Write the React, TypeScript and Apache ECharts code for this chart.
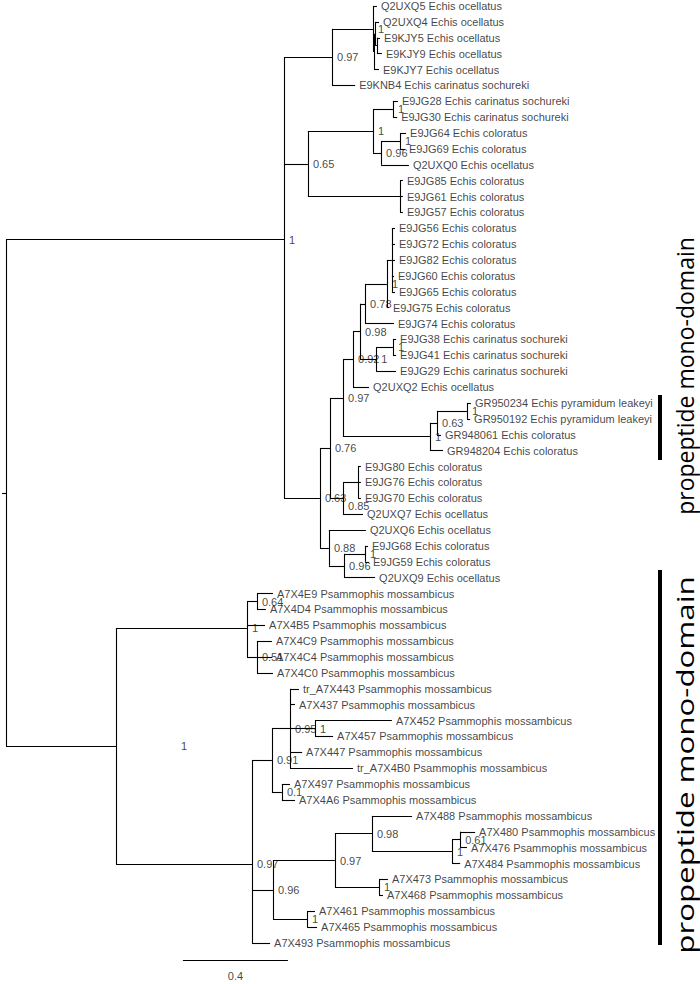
import { useEffect, useRef } from 'react';
import * as echarts from 'echarts';

// ---- tree data (tip order top to bottom) ----
const tipNames = [
  'Q2UXQ5 Echis ocellatus', 'Q2UXQ4 Echis ocellatus', 'E9KJY5 Echis ocellatus', 'E9KJY9 Echis ocellatus',
  'E9KJY7 Echis ocellatus', 'E9KNB4 Echis carinatus sochureki', 'E9JG28 Echis carinatus sochureki',
  'E9JG30 Echis carinatus sochureki', 'E9JG64 Echis coloratus', 'E9JG69 Echis coloratus', 'Q2UXQ0 Echis ocellatus',
  'E9JG85 Echis coloratus', 'E9JG61 Echis coloratus', 'E9JG57 Echis coloratus', 'E9JG56 Echis coloratus',
  'E9JG72 Echis coloratus', 'E9JG82 Echis coloratus', 'E9JG60 Echis coloratus', 'E9JG65 Echis coloratus',
  'E9JG75 Echis coloratus', 'E9JG74 Echis coloratus', 'E9JG38 Echis carinatus sochureki',
  'E9JG41 Echis carinatus sochureki', 'E9JG29 Echis carinatus sochureki', 'Q2UXQ2 Echis ocellatus',
  'GR950234 Echis pyramidum leakeyi', 'GR950192 Echis pyramidum leakeyi', 'GR948061 Echis coloratus',
  'GR948204 Echis coloratus', 'E9JG80 Echis coloratus', 'E9JG76 Echis coloratus', 'E9JG70 Echis coloratus',
  'Q2UXQ7 Echis ocellatus', 'Q2UXQ6 Echis ocellatus', 'E9JG68 Echis coloratus', 'E9JG59 Echis coloratus',
  'Q2UXQ9 Echis ocellatus', 'A7X4E9 Psammophis mossambicus', 'A7X4D4 Psammophis mossambicus',
  'A7X4B5 Psammophis mossambicus', 'A7X4C9 Psammophis mossambicus', 'A7X4C4 Psammophis mossambicus',
  'A7X4C0 Psammophis mossambicus', 'tr_A7X443 Psammophis mossambicus', 'A7X437 Psammophis mossambicus',
  'A7X452 Psammophis mossambicus', 'A7X457 Psammophis mossambicus', 'A7X447 Psammophis mossambicus',
  'tr_A7X4B0 Psammophis mossambicus', 'A7X497 Psammophis mossambicus', 'A7X4A6 Psammophis mossambicus',
  'A7X488 Psammophis mossambicus', 'A7X480 Psammophis mossambicus', 'A7X476 Psammophis mossambicus',
  'A7X484 Psammophis mossambicus', 'A7X473 Psammophis mossambicus', 'A7X468 Psammophis mossambicus',
  'A7X461 Psammophis mossambicus', 'A7X465 Psammophis mossambicus', 'A7X493 Psammophis mossambicus',
];
const tipParent = [
  'A1', 'A3', 'A4', 'A4', 'A2', 'A', 'B1a', 'B1a', 'B1c', 'B1c', 'B1b', 'B2', 'B2', 'B2',
  'K', 'K', 'K', 'K', 'K', 'M', 'H', 'L1', 'L1', 'L', 'C1a1', 'GR1a', 'GR1a', 'GR63', 'GRn',
  'N', 'N', 'N', 'C1b', 'C2', 'C2b', 'C2b', 'C2a',
  'P1a', 'P1a', 'P1', 'P1b', 'P1b', 'P1b', 'Q1', 'Q1', 'Q1a', 'Q1a', 'Q1', 'Q1', 'Q2', 'Q2',
  'T1', 'T1b', 'T1b', 'T1a', 'T2', 'T2', 'U', 'U', 'P2',
];
// distance from root (substitutions per site)
const tipDepth = [
  1.413, 1.421, 1.425, 1.432, 1.421, 1.330, 1.493, 1.490, 1.524, 1.520, 1.535, 1.512, 1.512, 1.512,
  1.482, 1.482, 1.482, 1.478, 1.482, 1.459, 1.478, 1.486, 1.486, 1.486, 1.383, 1.771, 1.768, 1.657, 1.665,
  1.352, 1.352, 1.352, 1.360, 1.371, 1.379, 1.383, 1.406,
  1.017, 0.990, 0.987, 1.013, 1.013, 1.017, 1.116, 1.101, 1.470, 1.246, 1.128, 1.322, 1.082, 1.101,
  1.547, 1.787, 1.756, 1.730, 1.455, 1.436, 1.177, 1.185, 1.006,
];
const nodeIds = [
  'R', 'E', 'A', 'A1', 'A2', 'A3', 'A4', 'B', 'B1', 'B1a', 'B1b', 'B1c', 'B2',
  'C', 'C1', 'C1a', 'C1a1', 'G', 'H', 'M', 'K', 'L', 'L1', 'GRn', 'GR63', 'GR1a', 'C1b', 'N',
  'C2', 'C2a', 'C2b', 'P', 'P1', 'P1a', 'P1b', 'P2', 'Q', 'Q1', 'Q1a', 'Q2', 'S', 'T', 'T1', 'T1a', 'T1b', 'T2', 'U',
];
const nodeParent = [
  '', 'R', 'E', 'A', 'A1', 'A2', 'A3', 'E', 'B', 'B1', 'B1', 'B1b', 'B',
  'E', 'C', 'C1', 'C1a', 'C1a1', 'G', 'H', 'M', 'G', 'L', 'C1a', 'GRn', 'GR63', 'C1', 'C1b',
  'C', 'C2', 'C2a', 'R', 'P', 'P1', 'P1', 'P', 'P2', 'Q', 'Q1', 'Q', 'P2', 'S', 'T', 'T1', 'T1a', 'T', 'S',
];
const nodeDepth = [
  0, 1.059, 1.242, 1.398, 1.402, 1.406, 1.413, 1.150, 1.398, 1.474, 1.429, 1.501, 1.501,
  1.196, 1.234, 1.284, 1.322, 1.349, 1.368, 1.451, 1.470, 1.410, 1.474, 1.615, 1.642, 1.756, 1.284, 1.341,
  1.230, 1.288, 1.368, 0.419, 0.918, 0.956, 0.956, 0.937, 1.013, 1.082, 1.177, 1.051, 1.017, 1.253, 1.394, 1.699, 1.730, 1.421, 1.147,
];
const nodeSupport = [
  '', '1', '0.97', '1', '', '', '', '0.65', '1', '1', '0.96', '1', '',
  '0.63', '0.76', '0.97', '0.92', '0.98', '0.78', '1', '', '1', '1', '1', '0.63', '1', '0.85', '',
  '0.88', '0.96', '1', '1', '1', '0.64', '0.51', '0.97', '0.91', '0.95', '1', '0.1', '0.96', '0.97', '0.98', '1', '0.61', '1', '1',
];
const scaleBarLength = 0.4;
const scaleBarLabel = '0.4';
const annotationText = 'propeptide mono-domain';

// ---- layout constants ----
const PX_PER_UNIT = 262.5;
const ROW = 15.88;
const X_MIN = -0.02;
const X_MAX = 2;
const Y_MAX = 61;
const SCALE_START = 0.674;
const SCALE_ROW = 60.07;
const ROOT_STUB = 0.015;
// pixel nudges for a few support labels, as placed in the original figure
const LABEL_NUDGE: Record<string, [number, number]> = { P: [60, 0], C1b: [0, 8] };

export default function App() {
  const ref = useRef<HTMLDivElement>(null);
  useEffect(() => {
    if (!ref.current) return;
    const chart = echarts.init(ref.current, null, { renderer: 'svg' });

    const depthOf: Record<string, number> = {};
    nodeIds.forEach((id, i) => { depthOf[id] = nodeDepth[i]; });
    const yCache: Record<string, number> = {};
    const childYs = (id: string): number[] => {
      const ys: number[] = [];
      tipParent.forEach((p, i) => { if (p === id) ys.push(i); });
      nodeIds.forEach((n, i) => { if (nodeParent[i] === id) ys.push(yOf(n)); });
      return ys;
    };
    const yOf = (id: string): number => {
      if (yCache[id] !== undefined) return yCache[id];
      const ys = childYs(id);
      const y = ys.reduce((a, b) => a + b, 0) / ys.length;
      yCache[id] = y;
      return y;
    };

    const segs: number[][][] = [];
    tipDepth.forEach((d, i) => {
      segs.push([[depthOf[tipParent[i]], i], [d, i]]);
    });
    nodeIds.forEach((id, i) => {
      const ys = childYs(id);
      const y = yOf(id);
      segs.push([[nodeDepth[i], Math.min(...ys)], [nodeDepth[i], Math.max(...ys)]]);
      if (nodeParent[i]) segs.push([[depthOf[nodeParent[i]], y], [nodeDepth[i], y]]);
      else segs.push([[-ROOT_STUB, y], [nodeDepth[i], y]]);
    });
    segs.push([[SCALE_START, SCALE_ROW], [SCALE_START + scaleBarLength, SCALE_ROW]]);

    const supportData: any[] = [];
    nodeIds.forEach((id, i) => {
      if (!nodeSupport[i]) return;
      const nudge = LABEL_NUDGE[id];
      supportData.push({
        value: [nodeDepth[i], yOf(id), nodeSupport[i]],
        label: nudge ? { offset: nudge } : undefined,
      });
    });

    const font = 'Liberation Sans';
    const gridLeft = 6 + X_MIN * PX_PER_UNIT;

    chart.setOption({
      animation: false,
      backgroundColor: '#fff',
      grid: { left: gridLeft, top: 6, width: (X_MAX - X_MIN) * PX_PER_UNIT, height: Y_MAX * ROW },
      xAxis: { type: 'value', min: X_MIN, max: X_MAX, show: false },
      yAxis: { type: 'value', min: 0, max: Y_MAX, inverse: true, show: false },
      series: [
        {
          type: 'lines',
          coordinateSystem: 'cartesian2d',
          clip: false,
          silent: true,
          lineStyle: { color: '#000', width: 1.1, opacity: 1 },
          data: segs.map((c) => ({ coords: c })),
        },
        {
          type: 'scatter',
          silent: true,
          symbolSize: 0.001,
          itemStyle: { color: 'rgba(0,0,0,0)' },
          label: {
            show: true, position: 'right', distance: 4, color: '#111',
            fontFamily: font, fontSize: 11,
            formatter: (p: any) => p.value[2],
          },
          data: tipDepth.map((d, i) => [d, i, tipNames[i]]),
        },
        {
          type: 'scatter',
          silent: true,
          symbolSize: 0.001,
          itemStyle: { color: 'rgba(0,0,0,0)' },
          label: {
            show: true, position: 'right', distance: 5, color: '#111',
            fontFamily: font, fontSize: 11,
            formatter: (p: any) => p.value[2],
          },
          data: supportData,
        },
        {
          type: 'scatter',
          silent: true,
          symbolSize: 0.001,
          clip: false,
          itemStyle: { color: 'rgba(0,0,0,0)' },
          label: {
            show: true, position: 'bottom', distance: 11, color: '#111',
            fontFamily: font, fontSize: 11,
            formatter: () => scaleBarLabel,
          },
          data: [[SCALE_START + scaleBarLength / 2, SCALE_ROW]],
        },
      ],
      graphic: [
        { type: 'rect', shape: { x: 658, y: 395, width: 4, height: 65 }, style: { fill: '#000' } },
        { type: 'rect', shape: { x: 658, y: 570, width: 4, height: 375 }, style: { fill: '#000' } },
        {
          type: 'text', x: 685, y: 376, rotation: Math.PI / 2,
          style: { text: annotationText, font: '23px "Open Sans"', fill: '#000', align: 'center', verticalAlign: 'middle' },
        },
        {
          type: 'text', x: 685, y: 765, rotation: Math.PI / 2, scaleX: 1.36,
          style: { text: annotationText, font: '23px "Open Sans"', fill: '#000', align: 'center', verticalAlign: 'middle' },
        },
      ],
    });
    return () => chart.dispose();
  }, []);
  return <div ref={ref} style={{ position: 'absolute', left: 0, top: 0, width: 700, height: 984 }} />;
}
